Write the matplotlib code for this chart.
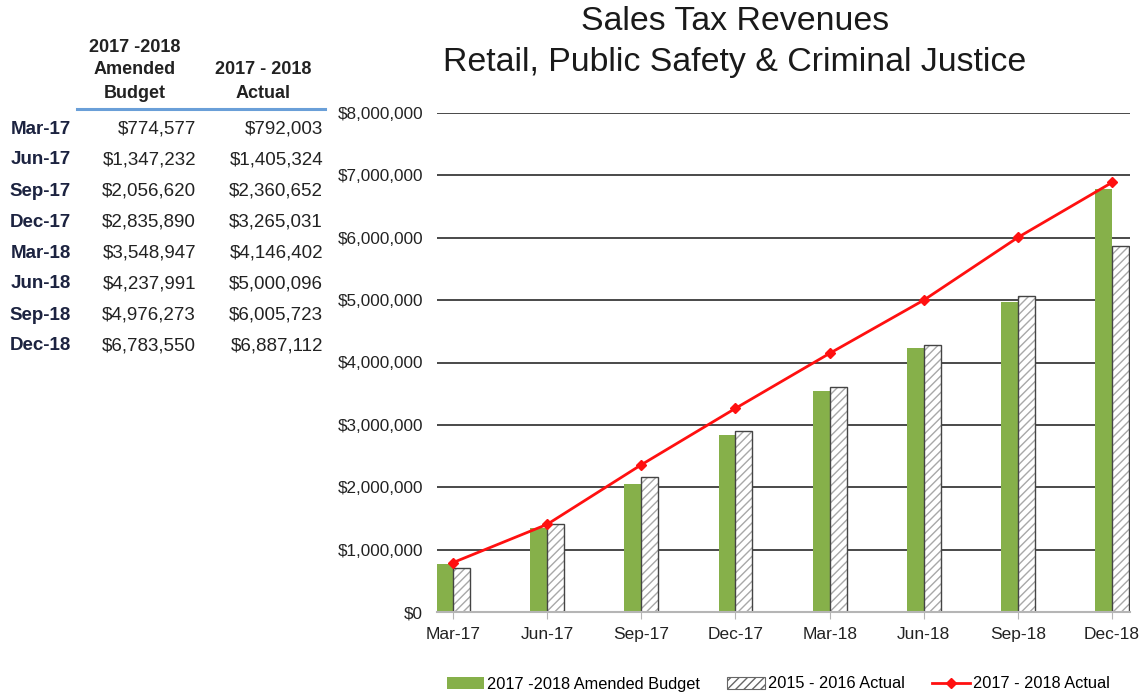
import numpy as np
import matplotlib
matplotlib.use("Agg")
from matplotlib import pyplot as plt
from matplotlib.lines import Line2D
from matplotlib.patches import Patch

plt.rcParams['font.family'] = ['Liberation Sans', 'DejaVu Sans']
plt.rcParams['hatch.linewidth'] = 1.0

quarters = ['Mar-17', 'Jun-17', 'Sep-17', 'Dec-17', 'Mar-18', 'Jun-18', 'Sep-18', 'Dec-18']
budget_1718 = [774577, 1347232, 2056620, 2835890, 3548947, 4237991, 4976273, 6783550]
actual_1718 = [792003, 1405324, 2360652, 3265031, 4146402, 5000096, 6005723, 6887112]
actual_1516 = [710000, 1410000, 2170000, 2900000, 3610000, 4280000, 5070000, 5870000]

green = '#86b04a'
navy = '#1c2340'
hatch_gray = '#a8a8a8'
W, H = 1146, 695


def money(v):
    return '${:,.0f}'.format(v)


def fx(px):
    return px / W


def fy(py):
    return 1 - py / H


def draw_table(fig):
    # column headers, one line at a time
    for text, y in [('2017 -2018', 47), ('Amended', 70), ('Budget', 94)]:
        fig.text(fx(135), fy(y), text, ha='center', va='center', fontsize=13,
                 fontweight='bold', color='#222222')
    for text, y in [('2017 - 2018', 70), ('Actual', 94)]:
        fig.text(fx(263), fy(y), text, ha='center', va='center', fontsize=13,
                 fontweight='bold', color='#222222')
    fig.add_artist(Line2D([fx(77), fx(325)], [fy(109), fy(109)], color='#6a9fd8', lw=2.2))
    for i, q in enumerate(quarters):
        y = fy(129 + i * 31.0)
        fig.text(fx(71), y, q, ha='right', va='center', fontsize=13.5,
                 fontweight='bold', color=navy)
        fig.text(fx(196), y, money(budget_1718[i]), ha='right', va='center',
                 fontsize=13.5, color='#222222')
        fig.text(fx(323), y, money(actual_1718[i]), ha='right', va='center',
                 fontsize=13.5, color='#222222')


def main():
    fig = plt.figure(figsize=(W / 100, H / 100), dpi=100)
    ax = fig.add_axes([fx(437), fy(612), (1130 - 437) / W, (612 - 113) / H])

    x = np.arange(len(quarters))
    w = 0.18
    ax.bar(x - w / 2, budget_1718, width=w, color=green, zorder=2)
    # hatched fill first, then the dark outline on top
    ax.bar(x + w / 2, actual_1516, width=w, color='white', edgecolor=hatch_gray,
           hatch='////', linewidth=0, zorder=2)
    ax.bar(x + w / 2, actual_1516, width=w, fill=False, edgecolor='#444444',
           linewidth=1.0, zorder=2)
    ax.plot(x, actual_1718, color='#ff1010', lw=2, marker='D', markersize=5, zorder=3)

    ax.set_xlim(-0.17, 7.19)
    ax.set_ylim(0, 8000000)
    ax.set_yticks(np.arange(0, 8000001, 1000000))
    ax.set_yticklabels([money(v) for v in ax.get_yticks()])
    ax.set_xticks(x)
    ax.set_xticklabels(quarters)
    ax.yaxis.grid(True, color='#2a2a2a', lw=1.2)
    ax.set_axisbelow(True)
    for s in ['top', 'right', 'left']:
        ax.spines[s].set_visible(False)
    ax.spines['bottom'].set_color('#b5b5b5')
    ax.spines['bottom'].set_linewidth(1.5)
    ax.spines['bottom'].set_zorder(4)
    ax.tick_params(axis='y', length=0, pad=10, labelsize=12.3, labelcolor='#222222')
    ax.tick_params(axis='x', length=5, color='#b5b5b5', pad=6, labelsize=12.5, labelcolor='#222222')

    fig.text(fx(735), fy(22), 'Sales Tax Revenues', ha='center', va='center',
             fontsize=24.4, color='#1a1a1a')
    fig.text(fx(735), fy(62), 'Retail, Public Safety & Criminal Justice', ha='center',
             va='center', fontsize=24.4, color='#1a1a1a')

    handles = [
        Patch(facecolor=green, label='2017 -2018 Amended Budget'),
        Patch(facecolor='white', edgecolor='#666666', hatch='////', lw=0.8,
              label='2015 - 2016 Actual'),
        Line2D([], [], color='#ff1010', lw=2, marker='D', markersize=5, label='2017 - 2018 Actual'),
    ]
    fig.legend(handles=handles, loc='center', bbox_to_anchor=(fx(778), fy(684)), ncol=3,
               frameon=False, fontsize=11.8, handlelength=2.3, handleheight=0.8,
               handletextpad=0.15, columnspacing=1.7)

    draw_table(fig)
    plt.savefig('out.png', dpi=100)


if __name__ == '__main__':
    main()
